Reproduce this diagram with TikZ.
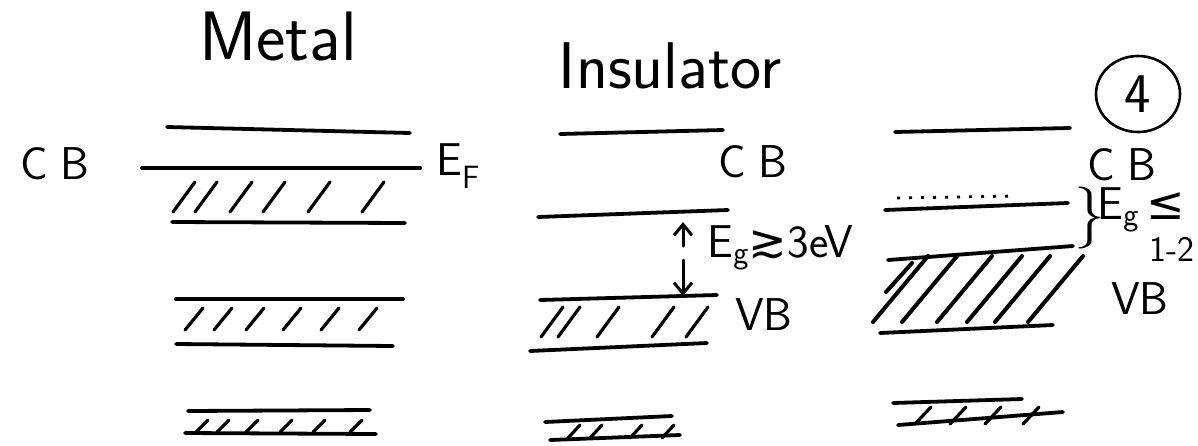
\documentclass[tikz,border=0pt]{standalone}
\usepackage{fontspec}
\newfontfamily\symfont{DejaVu Sans}
\usetikzlibrary{arrows.meta}
\tikzstyle{band} = [line width=3.8pt, line cap=round]
\tikzstyle{hatch} = [line width=3.2pt, line cap=round]
\tikzstyle{thickhatch} = [line width=4pt, line cap=round]
\tikzstyle{heading} = [font=\sffamily\fontsize{70}{80}\selectfont]
\tikzstyle{bandname} = [font=\sffamily\fontsize{46}{54}\selectfont]
\tikzstyle{arrow} = [line width=3pt, line cap=round,
  -{Straight Barb[length=11pt, width=18pt]}]

\begin{document}
\begin{tikzpicture}[x=1pt, y=-1pt]
\useasboundingbox (0,0) rectangle (1198,445);

% Metal
\node (metal) [heading] at (278,36) {Metal};
\node (cbmetal) [bandname] at (55,164) {C\;B};
\node (fermi) [bandname] at (458,166) {E\textsubscript{F}};

\draw [band] (167,127) -- (410,133);
\draw [band] (142,168) -- (420,168);
\draw [band] (172,222) -- (405,223);
\draw [band] (176,299) -- (403,299);
\draw [band] (176,344) -- (393,346);
\draw [band] (188,411) -- (370,410);
\draw [band] (185,433) -- (376,434);

\foreach \x in {173,195,230,263,308,362}
  \draw [hatch] (\x,212) -- ++(22,-30);
\foreach \x in {185,214,246,283,321,359}
  \draw [hatch] (\x,330) -- ++(18,-22);
\foreach \x in {196,217,246,280,313,350}
  \draw [hatch] (\x,432) -- ++(12,-12);

% Insulator
\node (insulator) [heading, font=\sffamily\fontsize{66}{76}\selectfont] at (670,66) {Insulator};
\node (cbinsul) [bandname] at (753,162) {C\;B};
\node (vbinsul) [bandname] at (764,315) {VB};
\node (gapinsul) [bandname, anchor=west] at (704,248)
  {E\textsubscript{g}{\symfont ≳}3eV};

\draw [band] (560,134) -- (723,130);
\draw [band] (538,217) -- (728,210);
\draw [band] (540,300) -- (717,295);
\draw [band] (530,351) -- (707,343);
\draw [band] (545,422) -- (672,416);
\draw [band] (550,440) -- (680,435);

\foreach \x in {541,558,597,652,686}
  \draw [hatch] (\x,337) -- ++(22,-30);
\foreach \x in {568,590,630,662}
  \draw [hatch] (\x,438) -- ++(12,-13);

\coordinate (gapup) at (683,246);
\coordinate (gapdown) at (683,260);
\coordinate (inscbbot) at (683,222);
\coordinate (insvbtop) at (683,296);
\draw [arrow] (gapup) -- (inscbbot);
\draw [arrow] (gapdown) -- (insvbtop);

% Semiconductor
\node (sheet) [font=\sffamily\fontsize{56}{64}\selectfont] at (1138,94) {4};
\draw [line width=2.6pt] (sheet.center) ellipse (42pt and 38pt);
\node (cbsemi) [bandname] at (1122,165) {C\;B};
\node (vbsemi) [bandname] at (1140,299) {VB};
\node (gapbrace) [font=\sffamily\fontsize{62}{70}\selectfont] at (1090,218) {\}};
\node (gapsemi) [bandname, anchor=west] at (1094,210)
  {E\textsubscript{g}\,{\symfont ≤}};
\node (gaprange) [font=\sffamily\fontsize{36}{42}\selectfont, anchor=west] at (1146,249) {1-2};

\draw [band] (895,132) -- (1070,128);
\draw [line width=2.8pt, dash pattern=on 3pt off 9pt] (897,198) -- (1015,196);
\draw [band] (885,210) -- (1068,203);
\draw [band] (888,260) -- (1073,246);
\draw [band] (880,333) -- (1053,325);
\draw [band] (893,403) -- (1022,399);
\draw [band] (898,425) -- (1063,412);

\foreach \x in {873,902,937,967,995,1028}
  \draw [thickhatch] (\x,322) -- ++(55,-66);
\draw [thickhatch] (886,292) -- ++(26,-29);
\foreach \x in {915,950,985,1023}
  \draw [hatch] (\x,424) -- ++(16,-17);

\end{tikzpicture}
\end{document}
